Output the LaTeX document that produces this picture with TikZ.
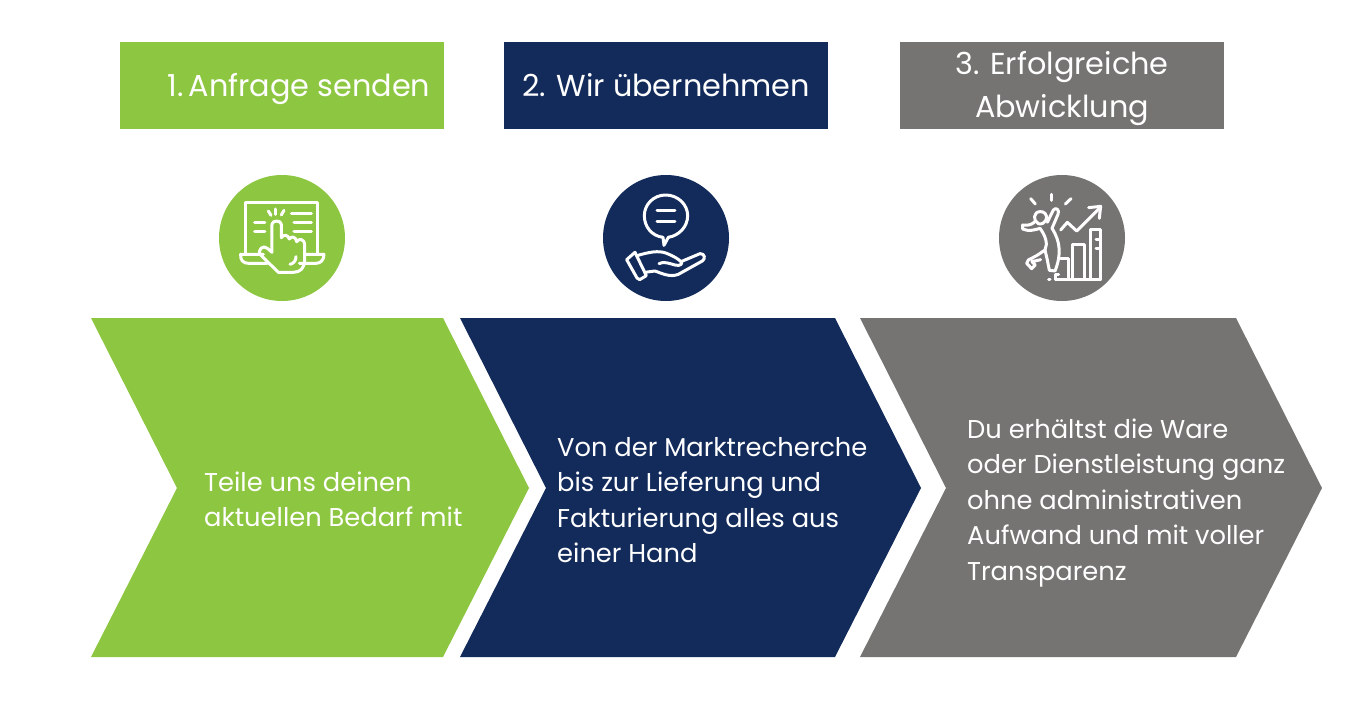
\documentclass[tikz,border=0pt]{standalone}
\usepackage{fontspec}
\setmainfont{Poppins}
\definecolor{cgreen}{HTML}{8DC641}
\definecolor{cnavy}{HTML}{132B5B}
\definecolor{cgray}{HTML}{757472}
\tikzset{
 head/.style={minimum width=324pt,minimum height=87pt,inner sep=0pt,text=white,font=\fontsize{30.3}{43}\selectfont},
 disc/.style={circle,minimum size=126pt,inner sep=0pt},
 body/.style={anchor=west,align=left,text=white,inner sep=0pt,font=\fontsize{25.75}{35.5}\selectfont},
 ic/.style={draw=white,line width=3pt,line cap=round,line join=round,fill=none},
}
\begin{document}
\begin{tikzpicture}[x=1pt,y=-1pt]
\useasboundingbox (0,0) rectangle (1366,709);
% header boxes
\node[head,fill=cgreen] (h1) at (282,85.5) {};
\node[anchor=east,text=white,inner sep=0pt,font=\fontsize{30.3}{43}\selectfont] (t1) at (430.5,89.5) {1.\kern5pt Anfrage senden};
\node[head,fill=cnavy] (h2) at (666,85.5) {2. Wir übernehmen};
\node[head,fill=cgray] (h3) at (1062,85.5) {};
\node[align=center,text=white,inner sep=0pt,font=\fontsize{30.3}{43}\selectfont] (t3) at (1062,89) {3. Erfolgreiche\\Abwicklung};
% discs
\node[disc,fill=cgreen] (c1) at (282,238) {};
\node[disc,fill=cnavy] (c2) at (666,238) {};
\node[disc,fill=cgray] (c3) at (1062,238) {};
% chevrons
\fill[cgreen] (91,318) -- (443,318) -- (529,488) -- (443,657) -- (91,657) -- (177,488) -- cycle;
\fill[cnavy] (460,318) -- (835,318) -- (921,488) -- (835,657) -- (460,657) -- (546,488) -- cycle;
\fill[cgray] (860,318) -- (1236,318) -- (1322,488) -- (1236,657) -- (860,657) -- (946,488) -- cycle;
% body text
\node[body] (b1) at (204,499.5) {Teile uns deinen\\aktuellen Bedarf mit};
\node[body] (b2) at (557,500) {Von der Marktrecherche\\bis zur Lieferung und\\Fakturierung alles aus\\einer Hand};
\node[body] (b3) at (967,503) {Du erhältst die Ware\\oder Dienstleistung ganz\\ohne administrativen\\Aufwand und mit voller\\Transparenz};
% icon 1
\begin{scope}[shift={(210,165)},x=0.3333pt,y=-0.3333pt]
\draw[ic] (108,268) -- (108,112) -- (324,112) -- (324,268);
\draw[ic] (160,268) -- (92,268) .. controls (90,285) and (100,295) .. (115,295) -- (172,295);
\draw[ic] (284,268) -- (342,268) .. controls (342,285) and (332,295) .. (318,295) -- (268,295);
\draw[ic] (186,240) -- (186,178) .. controls (186,165) and (214,165) .. (214,178) -- (214,218)
 .. controls (220,208) and (234,208) .. (238,222) .. controls (244,212) and (258,215) .. (260,230)
 .. controls (268,218) and (284,224) .. (284,238) -- (284,285) .. controls (284,310) and (270,322) .. (250,322) -- (205,322)
 -- (150,268) .. controls (142,255) and (160,238) .. (172,250) -- (186,262) -- (186,240);
\draw[ic] (258,275) .. controls (258,288) and (250,296) .. (240,298);
\draw[ic] (196,132) -- (196,148);
\draw[ic] (175,138) -- (183,151);
\draw[ic] (222,136) -- (214,150);
\draw[ic] (244,145) -- (304,145);
\draw[ic] (252,172) -- (304,172);
\draw[ic] (252,200) -- (304,200);
\draw[ic] (134,172) -- (165,172);
\draw[ic] (134,200) -- (165,200);
\end{scope}
% icon 2
\begin{scope}[shift={(595,165)},x=0.3333pt,y=-0.3333pt]
\draw[ic] (204,217) .. controls (170,213) and (148,185) .. (148,152) .. controls (148,118) and (176,90) .. (212,90)
 .. controls (248,90) and (278,118) .. (278,152) .. controls (278,185) and (252,212) .. (220,217) -- (207,241) -- cycle;
\draw[ic] (186,136) -- (240,136);
\draw[ic] (186,171) -- (240,171);
\draw[ic] (95,284) -- (120,262) -- (154,332) -- (134,344) .. controls (130,344) and (128,342) .. (126,339) -- cycle;
\draw[ic] (126,272) .. controls (160,262) and (190,255) .. (215,265) .. controls (235,273) and (250,282) .. (258,290)
 .. controls (265,295) and (255,305) .. (240,300) .. controls (225,296) and (205,288) .. (192,296);
\draw[ic] (258,290) -- (315,266) .. controls (330,265) and (332,282) .. (322,288) -- (250,328) .. controls (225,338) and (200,325) .. (180,318) -- (150,322);
\end{scope}
% icon 3
\begin{scope}[shift={(990,165)},x=0.3333pt,y=-0.3333pt]
\draw[ic] (122,101) -- (136,117);
\draw[ic] (183,88) -- (183,106);
\draw[ic] (243,101) -- (226,117);
\draw[ic] (150,140) .. controls (130,140) and (128,168) .. (145,176) .. controls (165,182) and (178,155) .. (165,145) .. controls (160,140) and (155,140) .. (150,140);
\draw[ic] (135,170) .. controls (125,180) and (112,182) .. (98,180) -- (98,192) .. controls (115,200) and (135,195) .. (150,190)
 .. controls (165,210) and (175,235) .. (165,255) -- (140,272) -- (115,285) -- (110,295) -- (125,311) -- (136,300) -- (126,290) -- (152,284);
\draw[ic] (172,172) -- (190,135) .. controls (198,125) and (210,135) .. (204,148) -- (186,190) .. controls (212,230) and (214,270) .. (195,318) -- (178,316) -- (172,285) -- (165,255);
\draw[ic] (212,195) -- (232,172) -- (260,198) -- (328,130);
\draw[ic] (296,128) -- (332,124) -- (328,160);
\draw[ic] (198,344) -- (332,344);
\draw[ic] (176,344) -- (180,344);
\draw[ic] (196,344) -- (196,328) -- (206,328);
\draw[ic] (234,344) -- (234,280) -- (212,280);
\draw[ic] (248,344) -- (248,240) -- (282,240) -- (282,344);
\draw[ic] (300,344) -- (300,194) -- (332,194) -- (332,344);
\draw[ic] (318,225) -- (332,225);
\draw[ic] (318,252) -- (332,252);
\end{scope}
\end{tikzpicture}
\end{document}
